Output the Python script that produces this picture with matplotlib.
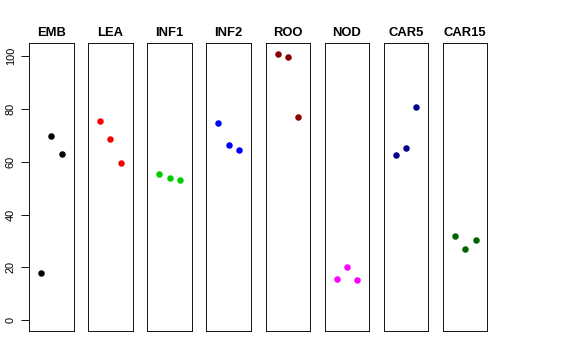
import matplotlib
matplotlib.use("Agg")
import matplotlib.pyplot as plt

plt.rcParams['font.family'] = ['Liberation Sans', 'DejaVu Sans']

categories = ["EMB", "LEA", "INF1", "INF2", "ROO", "NOD", "CAR5", "CAR15"]
emb = [17.9, 69.8, 62.8]
lea = [75.4, 68.5, 59.6]
inf1 = [55.5, 53.8, 53.0]
inf2 = [74.6, 66.4, 64.4]
roo = [100.9, 99.7, 77.0]
nod = [15.5, 20.3, 15.1]
car5 = [62.5, 65.1, 80.7]
car15 = [31.8, 27.1, 30.3]
series = [emb, lea, inf1, inf2, roo, nod, car5, car15]
colors = ["black", "#FF0000", "#00CD00", "#0000FF", "#8B0000", "#FF00FF", "#00008B", "#006400"]
yticks = [0, 20, 40, 60, 80, 100]

W, H = 576, 360
fig = plt.figure(figsize=(W / 72, H / 72), dpi=72)

left0 = 29
step = 59.14
pw = 44.5
top = 43
bottom = 331

for i, (name, vals, col) in enumerate(zip(categories, series, colors)):
    x0 = left0 + i * step
    ax = fig.add_axes([x0 / W, (H - bottom) / H, pw / W, (bottom - top) / H])
    ax.plot([1, 2, 3], vals, 'o', color=col, markersize=6.5, markeredgewidth=0)
    ax.set_xlim(-0.16, 4.16)
    ax.set_ylim(-4.05, 104.9)
    ax.set_xticks([])
    for s in ax.spines.values():
        s.set_linewidth(0.9)
        s.set_color("black")
    ax.set_title(name, fontsize=13, fontweight='bold', pad=7)
    if i == 0:
        ax.set_yticks(yticks)
        ax.set_yticklabels([str(t) for t in yticks], rotation=90, va='center', fontsize=11)
        ax.tick_params(axis='y', length=8, width=0.9, pad=5)
    else:
        ax.set_yticks([])

fig.savefig("out.png", dpi=72)
